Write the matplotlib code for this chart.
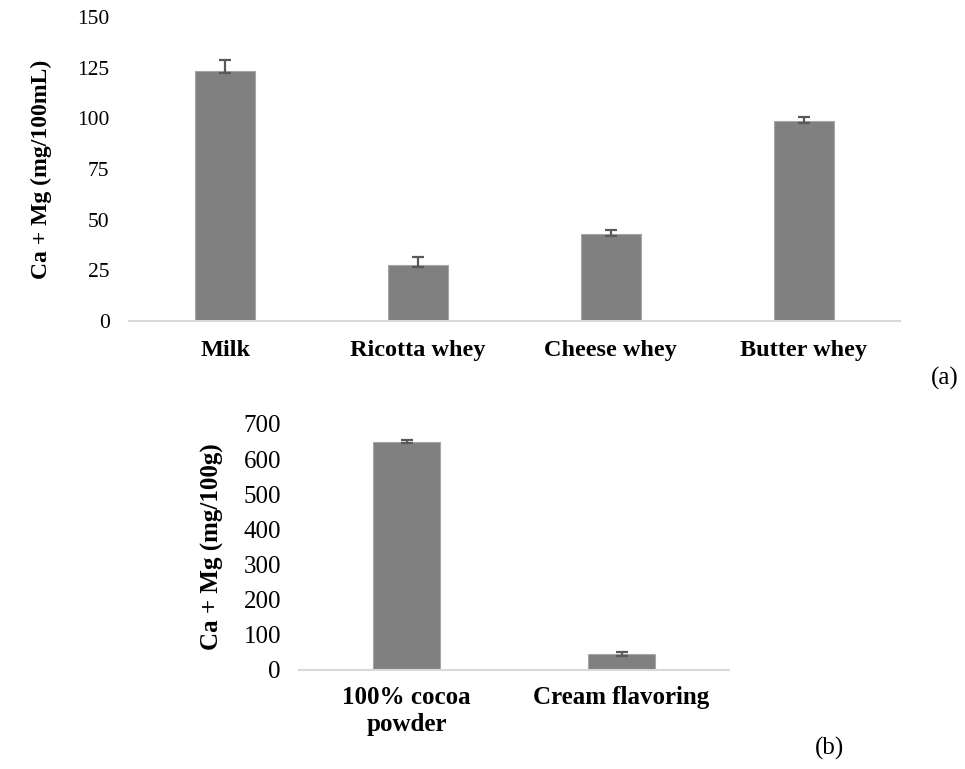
import numpy as np
import matplotlib
matplotlib.use('Agg')
import matplotlib.pyplot as plt

plt.rcParams['font.family'] = ['Liberation Serif', 'DejaVu Serif']

# (a) liquid dairy by-products
cats_a = ['Milk', 'Ricotta whey', 'Cheese whey', 'Butter whey']
vals_a = [123.5, 27.8, 42.8, 98.7]
err_lo_a = [1.0, 1.0, 1.0, 1.0]
err_hi_a = [5.3, 3.6, 2.1, 2.0]

# (b) powders
cats_b = ['100% cocoa\npowder', 'Cream flavoring']
vals_b = [650, 44]
err_b = [4, 5]

bar_col = '#808080'
edge_col = '#a6a6a6'
err_col = '#595959'
axis_col = '#d9d9d9'

fig = plt.figure(figsize=(9.65, 7.69), dpi=100)


def style_axes(ax):
    for s in ['top', 'right', 'left']:
        ax.spines[s].set_visible(False)
    ax.spines['bottom'].set_color(axis_col)
    ax.spines['bottom'].set_linewidth(1.5)
    ax.tick_params(axis='both', length=0)


ax1 = fig.add_axes([129 / 965, 1 - 321 / 769, 771 / 965, 304 / 769])
x1 = np.arange(len(cats_a))
ax1.bar(x1, vals_a, width=0.31, color=bar_col, edgecolor=edge_col, linewidth=0.8,
        yerr=[err_lo_a, err_hi_a], capsize=4.3,
        error_kw=dict(ecolor=err_col, elinewidth=1.6, capthick=1.6))
ax1.set_xlim(-0.5, 3.5)
ax1.set_ylim(0, 150)
ax1.set_yticks(np.arange(0, 151, 25))
ax1.set_xticks(x1)
ax1.set_xticklabels(cats_a, fontsize=17.5, fontweight='bold')
ax1.tick_params(axis='y', labelsize=15.5, pad=14)
ax1.tick_params(axis='x', pad=14)
ax1.set_ylabel('Ca + Mg (mg/100mL)', fontsize=17, fontweight='bold', labelpad=18)
style_axes(ax1)

ax2 = fig.add_axes([299 / 965, 1 - 669.5 / 769, 430 / 965, 245.5 / 769])
x2 = np.arange(len(cats_b))
ax2.bar(x2, vals_b, width=0.316, color=bar_col, edgecolor=edge_col, linewidth=0.8,
        yerr=err_b, capsize=4.3,
        error_kw=dict(ecolor=err_col, elinewidth=1.6, capthick=1.6))
ax2.set_xlim(-0.5, 1.5)
ax2.set_ylim(0, 700)
ax2.set_yticks(np.arange(0, 701, 100))
ax2.set_xticks(x2)
ax2.set_xticklabels(cats_b, fontsize=18, fontweight='bold')
ax2.tick_params(axis='y', labelsize=18, pad=13)
ax2.tick_params(axis='x', pad=12)
ax2.set_ylabel('Ca + Mg (mg/100g)', fontsize=18, fontweight='bold', labelpad=14)
style_axes(ax2)

fig.text(945 / 965, 1 - 378 / 769, '(a)', fontsize=18, ha='center', va='center')
fig.text(830 / 965, 1 - 748 / 769, '(b)', fontsize=18, ha='center', va='center')

fig.savefig('out.png', dpi=100)
